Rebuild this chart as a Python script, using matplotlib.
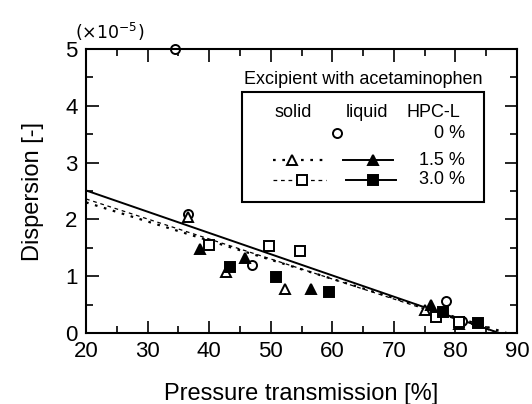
import matplotlib.pyplot as plt
from matplotlib.lines import Line2D
from matplotlib.patches import Rectangle

plt.rcParams['font.family'] = ['Liberation Sans', 'DejaVu Sans']

# data, dispersion in units of 1e-5
hpc0_x = [34.5, 36.6, 46.9, 78.5, 81.0]
hpc0_y = [5.0, 2.09, 1.19, 0.56, 0.22]

solid15_x = [36.6, 42.7, 52.3, 75.0]
solid15_y = [2.05, 1.08, 0.77, 0.40]
liquid15_x = [38.5, 45.9, 56.6, 76.1, 80.5]
liquid15_y = [1.48, 1.32, 0.77, 0.50, 0.16]

solid30_x = [40.0, 49.7, 54.8, 76.8, 80.6]
solid30_y = [1.55, 1.53, 1.45, 0.29, 0.20]
liquid30_x = [43.4, 50.9, 59.5, 77.9, 83.6]
liquid30_y = [1.17, 0.98, 0.72, 0.37, 0.17]

# fitted lines (end points)
fit_liquid_x = [20, 87.1]
fit_liquid_y = [2.51, 0.0]
fit_solid15_x = [20, 88.3]
fit_solid15_y = [2.30, 0.0]
fit_solid30_x = [20, 87.0]
fit_solid30_y = [2.36, 0.0]

fig = plt.figure(figsize=(5.32, 4.04), dpi=100)
ax = fig.add_axes([0.1617, 0.1757, 0.8101, 0.703])

ax.plot(fit_liquid_x, fit_liquid_y, '-', color='black', lw=1.4)
ax.plot(fit_solid15_x, fit_solid15_y, color='black', lw=1.6, linestyle=(0, (1.2, 3)))
ax.plot(fit_solid30_x, fit_solid30_y, color='black', lw=0.9, linestyle=(0, (3, 3)))

mk = dict(ms=6.5, mew=1.4, ls='none', clip_on=False)
ax.plot(hpc0_x, hpc0_y, 'o', mfc='white', mec='black', **mk)
ax.plot(solid15_x, solid15_y, '^', mfc='white', mec='black', **mk)
ax.plot(liquid15_x, liquid15_y, '^', mfc='black', mec='black', **mk)
ax.plot(solid30_x, solid30_y, 's', mfc='white', mec='black', **mk)
ax.plot(liquid30_x, liquid30_y, 's', mfc='black', mec='black', **mk)

ax.set_xlim(20, 90)
ax.set_ylim(0, 5)
ax.set_xticks(range(20, 91, 10))
ax.set_xticks(range(25, 90, 10), minor=True)
ax.set_yticks(range(0, 6))
ax.set_yticks([0.5, 1.5, 2.5, 3.5, 4.5], minor=True)
ax.tick_params(which='both', direction='in', top=True, right=True, labelsize=16, width=1.2)
ax.tick_params(which='major', length=9, pad=6)
ax.tick_params(which='minor', length=5)
for s in ax.spines.values():
    s.set_linewidth(1.5)

ax.set_xlabel('Pressure transmission [%]', fontsize=17, labelpad=15)
ax.set_ylabel('Dispersion [-]', fontsize=17, labelpad=15)
fig.text(0.207, 0.92, r'$(\times10^{-5})$', fontsize=12.5, ha='center', va='center',
         family='DejaVu Sans')

# hand-made legend
T = ax.transAxes
fs = 13
ax.add_patch(Rectangle((0.362, 0.461), 0.561, 0.388, transform=T, fill=False,
                       lw=1.5, ec='black'))
ax.text(0.643, 0.891, 'Excipient with acetaminophen', transform=T, ha='center',
        va='center', fontsize=fs)
ax.text(0.480, 0.778, 'solid', transform=T, ha='center', va='center', fontsize=fs)
ax.text(0.652, 0.778, 'liquid', transform=T, ha='center', va='center', fontsize=fs)
ax.text(0.805, 0.778, 'HPC-L', transform=T, ha='center', va='center', fontsize=fs)

rows = [0.704, 0.609, 0.539]
labels = ['0 %', '1.5 %', '3.0 %']
for r, lab in zip(rows, labels):
    ax.text(0.880, r, lab, transform=T, ha='right', va='center', fontsize=fs)

lm = dict(ms=6.5, mew=1.4, ls='none', transform=T)
ax.add_line(Line2D([0.582], [rows[0]], marker='o', mfc='white', mec='black', **lm))
ax.add_line(Line2D([0.435, 0.556], [rows[1]] * 2, transform=T, color='black',
                   lw=1.6, linestyle=(0, (1.2, 3))))
ax.add_line(Line2D([0.479], [rows[1]], marker='^', mfc='white', mec='black', **lm))
ax.add_line(Line2D([0.596, 0.712], [rows[1]] * 2, transform=T, color='black', lw=1.4))
ax.add_line(Line2D([0.666], [rows[1]], marker='^', mfc='black', mec='black', **lm))
ax.add_line(Line2D([0.435, 0.556], [rows[2]] * 2, transform=T, color='black',
                   lw=0.9, linestyle=(0, (3, 3))))
ax.add_line(Line2D([0.501], [rows[2]], marker='s', mfc='white', mec='black', **lm))
ax.add_line(Line2D([0.603, 0.719], [rows[2]] * 2, transform=T, color='black', lw=1.4))
ax.add_line(Line2D([0.666], [rows[2]], marker='s', mfc='black', mec='black', **lm))

fig.savefig('out.png', dpi=100)
